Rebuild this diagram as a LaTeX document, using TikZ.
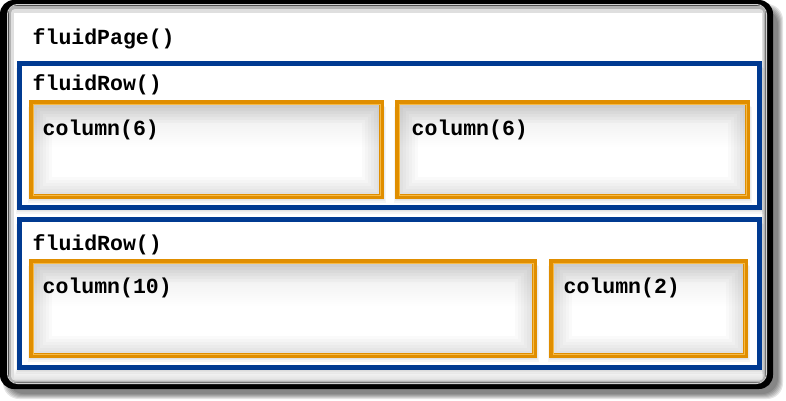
\documentclass[tikz,border=0pt]{standalone}
\usepackage{fontspec}
\newfontfamily\codefont{Liberation Mono}
\definecolor{rowblue}{RGB}{0,58,145}
\definecolor{colorange}{RGB}{224,142,0}
\definecolor{collight}{RGB}{246,186,70}

\begin{document}
\begin{tikzpicture}[x=1pt,y=-1pt,
  code/.style={font=\codefont\bfseries\fontsize{21.5}{24}\selectfont, anchor=base west, inner sep=0pt},
  rowline/.style={draw=rowblue, line width=4.5pt},
  colline/.style={draw=colorange, line width=5pt}]
  \useasboundingbox (0,0) rectangle (786,400);

  % page frame
  \foreach \k in {0,...,5}
    \fill[black, opacity=0.1, rounded corners=16pt] (3+\k,4+\k) rectangle (783-\k,399-\k);
  \fill[black, rounded corners=14pt] (0,0) rectangle (773,389);
  \draw[gray!35, line width=1pt, rounded corners=10pt] (7.5,4.5) rectangle (766.5,383.5);
  \fill[gray!60, rounded corners=7pt] (8.5,5.5) rectangle (765.5,382.5);
  \fill[gray!25, rounded corners=4pt] (11,9) rectangle (763.5,380.5);
  \fill[white] (14,13) rectangle (762,378);
  \shade[top color=white, bottom color=gray!20] (14,368) rectangle (762,378);

  % rows
  \foreach \ya/\yb in {63.5/207.5, 219.5/367.5} {
    \foreach \k in {1,...,4}
      \fill[black, opacity=0.04] (19.5-\k,\ya+\k) rectangle (759.5+\k,\yb+1.5*\k);
    \fill[white] (19.5,\ya) rectangle (759.5,\yb);
    \draw[rowline] (19.5,\ya) rectangle (759.5,\yb);
  }

  % columns
  \foreach \xa/\ya/\xb/\yb in {31.5/102.5/381.5/196.5, 397.5/102.5/747.5/196.5,
                               31.5/261.5/534.5/355.5, 551.5/261.5/745.5/355.5} {
    \foreach \k in {1,...,4}
      \fill[black, opacity=0.04] (\xa-\k,\ya+\k) rectangle (\xb+\k,\yb+1.5*\k);
    \fill[white] (\xa,\ya) rectangle (\xb,\yb);
    \shade[top color=gray!18, bottom color=white] (\xa,\ya) rectangle (\xb,\ya+45);
    \begin{scope}
      \clip (\xa,\ya) rectangle (\xb,\yb);
      \foreach \w in {4,10,...,40}
        \draw[black, opacity=0.02, line width=\w pt] (\xa,\ya) rectangle (\xb,\yb);
    \end{scope}
    \draw[colline] (\xa,\ya) rectangle (\xb,\yb);
    \draw[collight, line width=1pt] (\xa+1.5,\ya+1.5) rectangle (\xb-1.5,\yb-1.5);
  }

  \node[code] (page) at (32.5,44) {fluidPage()};
  \node[code] (row1) at (32.5,90) {fluidRow()};
  \node[code] (row2) at (32.5,250) {fluidRow()};
  \node[code] (col1) at (42.5,135) {column(6)};
  \node[code] (col2) at (411.5,135) {column(6)};
  \node[code] (col3) at (42.5,293) {column(10)};
  \node[code] (col4) at (563.5,293) {column(2)};
\end{tikzpicture}
\end{document}
